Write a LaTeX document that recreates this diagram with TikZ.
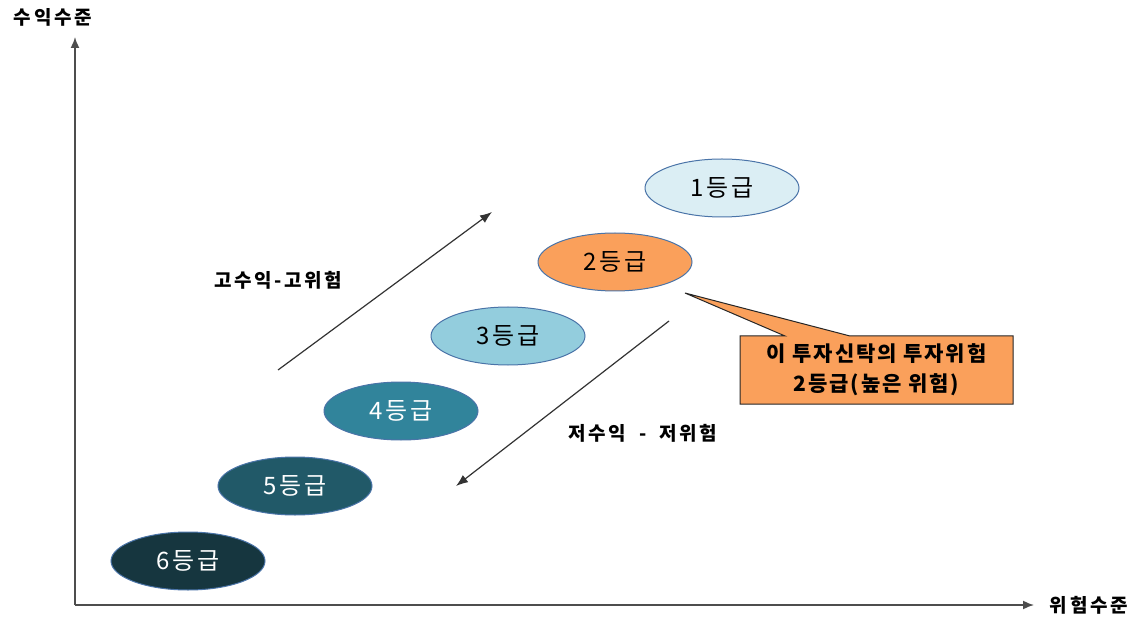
\documentclass[tikz,border=0pt]{standalone}
\usepackage{fontspec}
\setmainfont{Noto Sans CJK KR}
\usetikzlibrary{shapes.geometric,arrows.meta}
\definecolor{eborder}{HTML}{4A74A8}
\definecolor{gA}{HTML}{DBEEF4}
\definecolor{gB}{HTML}{FAA05B}
\definecolor{gC}{HTML}{93CDDD}
\definecolor{gD}{HTML}{31849B}
\definecolor{gE}{HTML}{215968}
\definecolor{gF}{HTML}{16363F}
\definecolor{axisgray}{HTML}{4D4D4D}
\newcommand{\lsp}[1]{\addfontfeature{LetterSpace=#1}}
\tikzset{
  grade/.style={ellipse,draw=eborder,line width=1pt,minimum width=154pt,minimum height=58pt,inner sep=0pt,font=\fontsize{24}{26}\selectfont\lsp{10}},
  axislab/.style={font=\bfseries\fontsize{19}{21}\selectfont\lsp{15},inner sep=0pt},
  axisline/.style={draw=axisgray,line width=1.6pt,-{Latex[length=11pt,width=9pt]}},
  trend/.style={draw=black!80,line width=1.2pt,-{Latex[length=12pt,width=9pt]}},
  trendlab/.style={font=\bfseries\fontsize{19}{21}\selectfont\lsp{13},inner sep=0pt},
}
\begin{document}
\begin{tikzpicture}[x=1pt,y=-1pt]
\useasboundingbox[fill=white] (0,0) rectangle (1137,617);
% axes
\coordinate (origin) at (75,605);
\coordinate (ytip) at (75,37);
\coordinate (xtip) at (1034,605);
\draw[axisline] (origin) -- (ytip);
\draw[axisline] (origin) -- (xtip);
\node[axislab] (ylab) at (53,17) {수익수준};
\node[axislab] (xlab) at (1089,605) {위험수준};
% grades
\node[grade,fill=gA] (g1) at (722,188) {1등급};
\node[grade,fill=gB] (g2) at (615,262) {2등급};
\node[grade,fill=gC] (g3) at (508,336) {3등급};
\node[grade,fill=gD,text=white] (g4) at (401,411) {4등급};
\node[grade,fill=gE,text=white] (g5) at (295,486) {5등급};
\node[grade,fill=gF,text=white] (g6) at (188,561) {6등급};
% trend arrows
\coordinate (upS) at (278,370);
\coordinate (upE) at (492,212);
\coordinate (dnS) at (669,321);
\coordinate (dnE) at (456,486);
\draw[trend] (upS) -- (upE);
\draw[trend] (dnS) -- (dnE);
\node[trendlab] (hl) at (278,280) {고수익-고위험};
\node[trendlab] (ll) at (643,433) {저수익\hspace{13pt}-\hspace{13pt}저위험};
% callout
\coordinate (ctip) at (685,293);
\filldraw[fill=gB,draw=black!85,line width=1pt] (740,336) -- (785,336) -- (ctip) -- (850,336) -- (1013,336) -- (1013,404) -- (740,404) -- cycle;
\node[font=\bfseries\fontsize{21}{30}\selectfont\lsp{9},align=center,inner sep=0pt] (callout) at (876.5,370) {이 투자신탁의 투자위험\\2등급(높은 위험)};
\end{tikzpicture}
\end{document}
